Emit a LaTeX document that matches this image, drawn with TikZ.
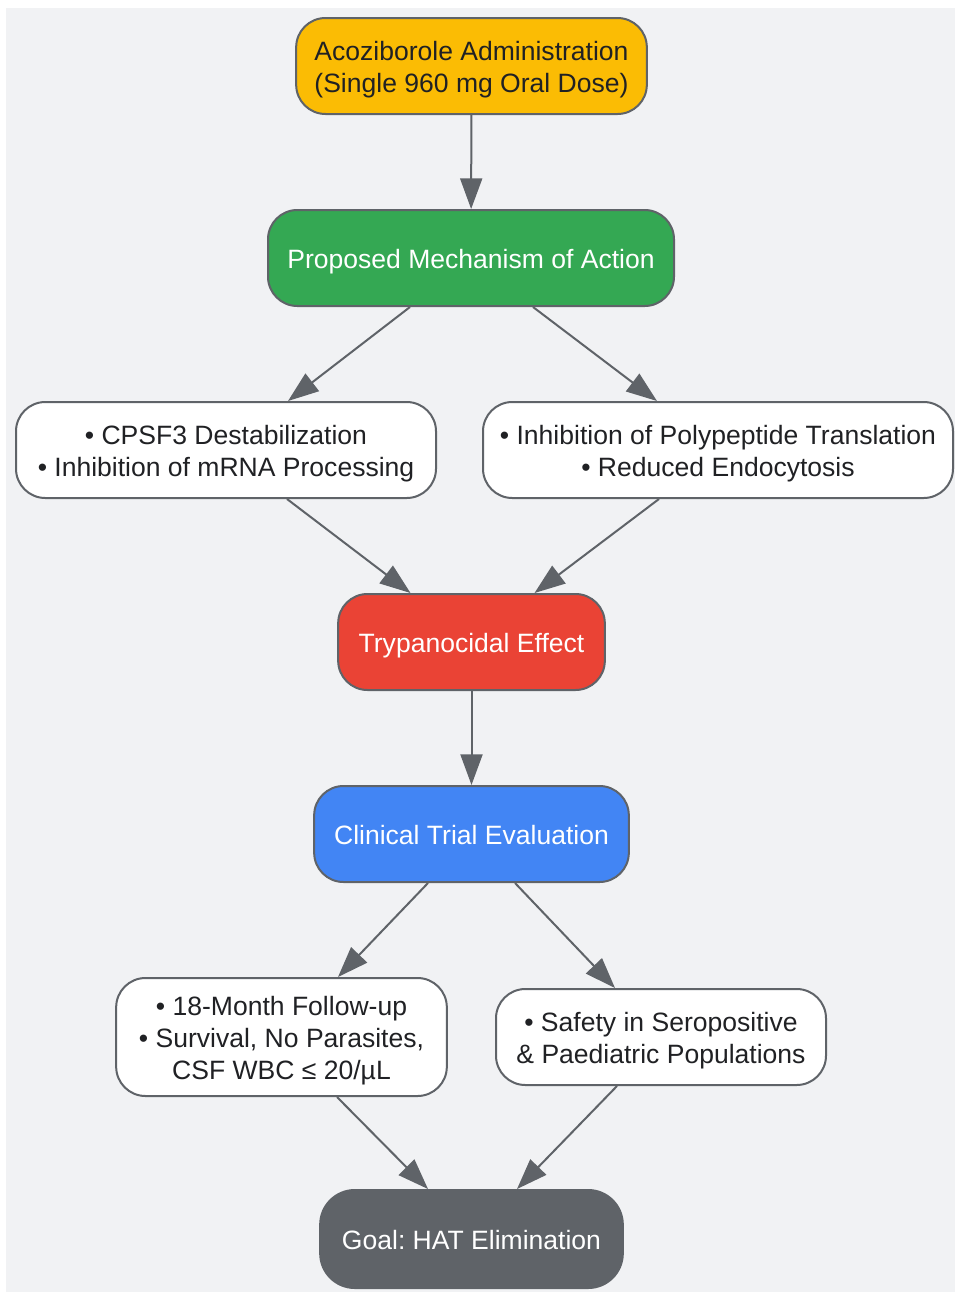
\documentclass[tikz,border=0pt]{standalone}
\usepackage{tikz}
\usetikzlibrary{positioning, calc, arrows.meta}
\usepackage{fontspec}
\setmainfont{Liberation Sans}
\usepackage{xcolor}
\frenchspacing

\definecolor{bggray}{HTML}{F1F2F4}
\definecolor{edgegray}{HTML}{5F6368}
\definecolor{txtdark}{HTML}{202124}
\definecolor{doseyellow}{HTML}{FBBC04}
\definecolor{mechgreen}{HTML}{34A853}
\definecolor{effectred}{HTML}{EA4335}
\definecolor{trialblue}{HTML}{4285F4}

\tikzset{
  box/.style={draw=edgegray, line width=1.5pt, rounded corners=22pt, minimum height=72pt,
    inner sep=0pt, align=center, text=txtdark, font=\fontsize{19.9pt}{24pt}\selectfont,
    text height=17pt, text depth=1.2pt},
  twoline/.style={text height=41pt},
  threeline/.style={text height=65pt},
  whitebox/.style={box, fill=white},
  flow/.style={draw=edgegray, line width=1.5pt, -{Triangle[length=23pt, width=16.5pt]}}
}

\begin{document}
\begin{tikzpicture}[x=0.75pt, y=-0.75pt] % 1 unit = 1 px of the reference

\useasboundingbox (0,0) rectangle (955,1292);
\fill[bggray] (6,8) rectangle (955,1292);

\node[box, twoline, fill=doseyellow, minimum width=263pt] (dose) at (471.5,66)
  {Acoziborole Administration\\(Single 960 mg Oral Dose)};
\node[box, fill=mechgreen, text=white, minimum width=304.5pt] (mech) at (471,258)
  {Proposed Mechanism of Action};
\node[whitebox, twoline, minimum width=315pt] (cpsf) at (226,450)
  {• CPSF3 Destabilization\\• Inhibition of mRNA Processing};
\node[whitebox, twoline, minimum width=352.5pt] (transl) at (718,450)
  {• Inhibition of Polypeptide Translation\\• Reduced Endocytosis};
\node[box, fill=effectred, text=white, minimum width=200pt] (effect) at (471.5,642)
  {Trypanocidal Effect};
\node[box, fill=trialblue, text=white, minimum width=236pt] (trial) at (471.5,834)
  {Clinical Trial Evaluation};
\node[whitebox, threeline, minimum width=248pt, minimum height=88.5pt] (follow) at (281.5,1037)
  {• 18-Month Follow-up\\• Survival, No Parasites,\\CSF WBC ≤ 20/µL};
\node[whitebox, twoline, minimum width=247.5pt] (safety) at (661,1037)
  {• Safety in Seropositive\\\& Paediatric Populations};
\node[box, fill=edgegray, text=white, minimum width=227pt, minimum height=73.5pt, rounded corners=26pt] (goal) at (471.5,1239)
  {Goal: HAT Elimination};

\draw[flow] (dose) -- (mech);
\draw[flow] ($(mech.south)+(-61,0)$) -- ($(cpsf.north)+(62,0)$);
\draw[flow] ($(mech.south)+(62,0)$) -- ($(transl.north)+(-61,0)$);
\draw[flow] ($(cpsf.south)+(61,0)$) -- ($(effect.north)+(-61,0)$);
\draw[flow] ($(transl.south)+(-59,0)$) -- ($(effect.north)+(63,0)$);
\draw[flow] (effect) -- (trial);
\draw[flow] ($(trial.south)+(-43.5,0)$) -- ($(follow.north)+(56.5,0)$);
\draw[flow] ($(trial.south)+(43.5,0)$) -- ($(safety.north)+(-46,0)$);
\draw[flow] ($(follow.south)+(55.5,0)$) -- ($(goal.north)+(-43.5,0)$);
\draw[flow] ($(safety.south)+(-44,0)$) -- ($(goal.north)+(45.5,0)$);

\end{tikzpicture}
\end{document}
